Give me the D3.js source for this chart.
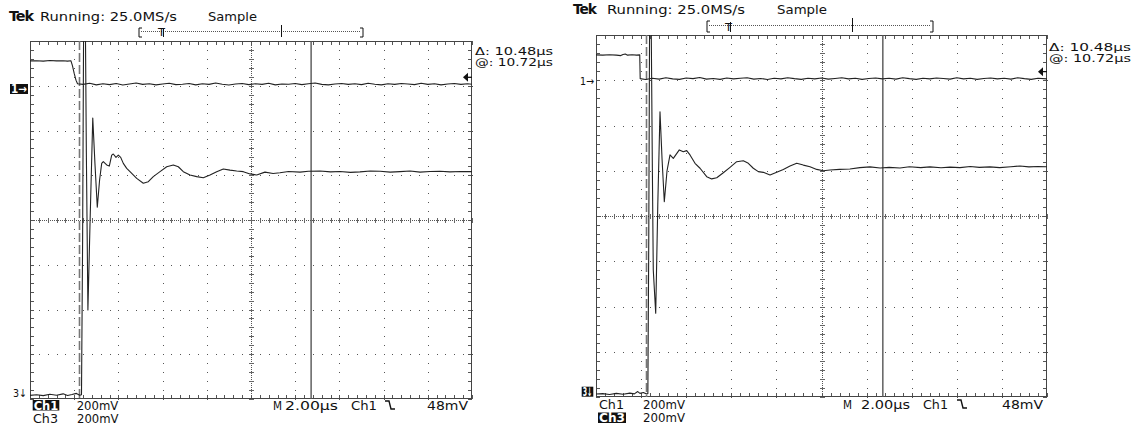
<!DOCTYPE html>
<html><head><meta charset="utf-8">
<script src="https://cdn.jsdelivr.net/npm/d3@7"></script>
<style>body{margin:0;background:#fff}svg{display:block}</style>
</head><body>
<svg id="c" width="1143" height="428"></svg>
<script>
// ---------------- DATA ----------------
// time in µs relative to trigger (2 µs/div, 10 div), voltage in mV on screen (200 mV/div, 8 div)
const timeDivs = [-2, 0, 2, 4, 6, 8, 10, 12, 14, 16, 18];
const voltDivs = [-800, -600, -400, -200, 0, 200, 400, 600, 800];
const cursorTimes = [0.24, 10.72];
const ch1Offset = 590;      // mV screen position of Ch1 ground
const trigLevel = 48;       // mV
const headerTexts = ["Running: 25.0MS/s", "Sample"];
const cursorTexts = ["\u0394: 10.48\u00b5s", "@: 10.72\u00b5s"];
const channelNames = ["Ch1", "Ch3"];
const channelScales = ["200mV", "200mV"];
const timebaseText = "2.00\u00b5s";
const trigSourceText = "Ch1";
const trigLevelText = "48mV";

const ch1A = [[-2.0,711],[-1.7,712],[-1.4,710],[-1.1,713],[-0.8,711],[-0.5,712],[-0.3,710],[-0.15,712],[-0.08,690],[0.0,655],[0.08,625],[0.15,609],
[0.4,606],[0.7,611],[1.0,604],[1.3,609],[1.6,605],[1.9,610],[2.2,603],[2.5,608],[2.8,612],[3.1,606],[3.4,609],[3.7,604],[4.0,608],[4.3,611],[4.6,605],[4.9,607],[5.2,610],[5.5,604],[5.8,609],[6.1,606],[6.4,612],[6.7,607],[7.0,603],[7.3,608],[7.6,610],[7.9,605],[8.2,609],[8.5,606],[8.8,611],[9.1,604],[9.4,608],[9.7,607],[10.0,610],[10.3,605],[10.6,609],[10.9,612],[11.2,606],[11.5,604],[11.8,608],[12.1,610],[12.4,606],[12.7,609],[13.0,605],[13.3,611],[13.6,607],[13.9,604],[14.2,609],[14.5,606],[14.8,610],[15.1,608],[15.4,605],[15.7,611],[16.0,606],[16.3,609],[16.6,604],[16.9,608],[17.2,610],[17.5,606],[17.8,609],[18.0,607]];

const ch3A = [[-2.0,-784],[-1.7,-781],[-1.4,-785],[-1.1,-779],[-0.8,-783],[-0.5,-777],[-0.3,-784],[-0.1,-780],[0.1,-775],[0.25,-783],[0.33,-781],[0.38,-100],[0.43,950],[0.50,950],[0.55,300],[0.62,-402],[0.72,0],[0.84,456],[0.94,250],[1.045,57],[1.15,180],[1.244,253],[1.317,261],[1.471,246],[1.588,241],[1.697,290],[1.769,295],[1.892,280],[1.996,290],[2.104,280],[2.222,253],[2.376,231],[2.525,216],[2.828,186],[3.127,164],[3.353,171],[3.579,194],[3.883,216],[4.186,238],[4.484,246],[4.711,238],[4.937,216],[5.24,201],[5.543,194],[5.842,189],[6.145,201],[6.448,216],[6.747,228],[7.05,223],[7.353,219],[7.652,216],[7.955,206],[8.258,201],[8.63,214],[9.0,208],[9.31,211],[9.7,217],[10.22,214],[10.6,218],[11.12,219],[11.6,215],[12.03,217],[12.5,213],[12.93,215],[13.4,219],[13.84,218],[14.3,214],[14.74,216],[15.2,219],[15.65,214],[16.1,217],[16.55,218],[17.0,215],[17.5,217],[18.0,216]];

const ch1B = [[-2.0,712],[-1.7,711],[-1.4,713],[-1.1,711],[-0.9,709],[-0.8,714],[-0.7,716],[-0.6,711],[-0.4,713],[-0.2,711],[-0.06,712],[-0.04,607],
[0.2,603],[0.5,609],[0.8,605],[1.1,611],[1.4,606],[1.7,604],[2.0,610],[2.3,607],[2.6,612],[2.9,605],[3.2,608],[3.5,604],[3.8,610],[4.1,606],[4.4,609],[4.7,611],[5.0,605],[5.3,608],[5.6,603],[5.9,609],[6.2,606],[6.5,611],[6.8,607],[7.1,604],[7.4,609],[7.7,606],[8.0,610],[8.3,605],[8.6,608],[8.9,611],[9.2,606],[9.5,609],[9.8,604],[10.1,608],[10.4,610],[10.7,606],[11.0,609],[11.3,605],[11.6,611],[11.9,607],[12.2,604],[12.5,609],[12.8,606],[13.1,610],[13.4,608],[13.7,605],[14.0,611],[14.3,606],[14.6,609],[14.9,604],[15.2,608],[15.5,610],[15.8,606],[16.1,609],[16.4,605],[16.7,611],[17.0,607],[17.3,604],[17.6,609],[18.0,606]];

const ch3B = [[-2.0,-787],[-1.7,-785],[-1.4,-789],[-1.1,-784],[-0.8,-788],[-0.5,-783],[-0.3,-786],[-0.15,-776],[-0.05,-784],[0.1,-780],[0.22,-786],[0.30,-785],[0.34,-100],[0.38,950],[0.44,950],[0.50,200],[0.54,-239],[0.648,-430],[0.74,50],[0.838,461],[0.93,250],[1.029,63],[1.15,200],[1.282,270],[1.428,255],[1.694,292],[1.872,284],[2.022,289],[2.169,270],[2.391,233],[2.613,211],[2.91,174],[3.132,164],[3.354,169],[3.646,191],[3.943,215],[4.24,240],[4.533,244],[4.755,233],[4.976,211],[5.198,196],[5.42,193],[5.717,181],[6.014,193],[6.307,206],[6.604,221],[6.901,233],[7.194,225],[7.49,218],[7.788,206],[8.08,200],[8.377,203],[8.8,206],[9.26,208],[9.7,214],[10.15,217],[10.6,212],[11.0,215],[11.48,212],[11.9,218],[12.4,214],[12.81,217],[13.3,213],[13.7,216],[14.14,214],[14.6,219],[15.0,215],[15.47,217],[15.9,214],[16.4,218],[16.8,221],[17.2,217],[17.6,219],[18.0,218]];

// ---------------- LAYOUT ----------------
const panels = [
 {box:{x0:30,x1:472,y0:41,y1:399}, ch1:ch1A, ch3:ch3A,
  hdrY:21, tek:{x:9,w:24}, run:{x:40,w:137}, smp:{x:208,w:49},
  bar:{y:31,top:28,bot:37,x0:139,xT:161,xM:281,x1:363},
  dlt:{x:475,w:78,y1:54.5,y2:65.5},
  m1:{inv:true,x:10,y:84,w:18,h:10}, m3:{inv:false,x:13,y:387,w:14,h:10},
  r1:409.5, r2:422.5, c1:{x:32.7,w:26.6,inv:true}, c1s:{x:76.7,w:41.6}, c3:{x:33,w:25,inv:false}, c3s:{x:77,w:41.5},
  M:{x:273}, mt:{x:285,w:53}, tc:{x:351,w:26}, sym:{x:385}, lv:{x:427,w:41}},
 {box:{x0:596,x1:1047,y0:35,y1:397}, ch1:ch1B, ch3:ch3B,
  hdrY:13.5, tek:{x:573,w:23}, run:{x:607,w:138}, smp:{x:777,w:50},
  bar:{y:25,top:21,bot:32,x0:707,xT:728,xM:852,x1:933},
  dlt:{x:1049,w:82,y1:51,y2:62},
  m1:{inv:false,x:580,y:76,w:14,h:9}, m3:{inv:true,x:581.7,y:386.7,w:11.6,h:10},
  r1:408.5, r2:422, c1:{x:599,w:25,inv:false}, c1s:{x:643,w:42}, c3:{x:598,w:28,inv:true}, c3s:{x:643,w:42},
  M:{x:843}, mt:{x:861,w:49}, tc:{x:923,w:25}, sym:{x:957}, lv:{x:1002,w:41}}
];

const FONT = "DejaVu Sans, Verdana, sans-serif";
const svg = d3.select("#c");
const ink = "#111";

function txt(g, s, x, y, w, size, fill, weight) {
  const t = g.append("text").attr("x", x).attr("y", y).text(s)
    .attr("font-family", FONT).attr("font-size", size || 12)
    .attr("fill", fill || ink).attr("font-weight", weight || "normal");
  if (w) t.attr("textLength", w).attr("lengthAdjust", "spacingAndGlyphs");
  return t;
}

panels.forEach((p, i) => {
  const b = p.box;
  const g = svg.append("g");
  const x = d3.scaleLinear().domain([timeDivs[0], timeDivs[timeDivs.length-1]]).range([b.x0, b.x1]);
  const y = d3.scaleLinear().domain([voltDivs[0], voltDivs[voltDivs.length-1]]).range([b.y1, b.y0]);
  const minorT = [], minorV = [];
  for (let k = 0; k < timeDivs.length - 1; k++) for (let s = 0; s < 5; s++) minorT.push(timeDivs[k] + (timeDivs[k+1]-timeDivs[k]) * s / 5);
  minorT.push(timeDivs[timeDivs.length-1]);
  for (let k = 0; k < voltDivs.length - 1; k++) for (let s = 0; s < 5; s++) minorV.push(voltDivs[k] + (voltDivs[k+1]-voltDivs[k]) * s / 5);
  minorV.push(voltDivs[voltDivs.length-1]);
  const tMid = timeDivs[5], vMid = voltDivs[4];
  const dotCol = "#555";
  const grid = g.append("g").attr("shape-rendering", "crispEdges");
  timeDivs.slice(1, -1).forEach(t => {
    if (t === tMid) return;
    minorV.forEach(v => grid.append("rect").attr("x", Math.round(x(t))).attr("y", Math.round(y(v))).attr("width", 1).attr("height", 1).attr("fill", dotCol));
  });
  voltDivs.slice(1, -1).forEach(v => {
    if (v === vMid) return;
    minorT.forEach(t => grid.append("rect").attr("x", Math.round(x(t))).attr("y", Math.round(y(v))).attr("width", 1).attr("height", 1).attr("fill", dotCol));
  });
  const cx = Math.round(x(tMid)) + 0.5, cy = Math.round(y(vMid)) + 0.5;
  grid.append("line").attr("x1", b.x0).attr("x2", b.x1).attr("y1", cy).attr("y2", cy).attr("stroke", "#555").attr("stroke-dasharray", "1,1");
  grid.append("line").attr("y1", b.y0).attr("y2", b.y1).attr("x1", cx).attr("x2", cx).attr("stroke", "#555").attr("stroke-dasharray", "1,1");
  minorT.forEach(t => grid.append("line").attr("x1", Math.round(x(t))+0.5).attr("x2", Math.round(x(t))+0.5).attr("y1", cy-2.5).attr("y2", cy+2.5).attr("stroke", "#666"));
  minorV.forEach(v => grid.append("line").attr("y1", Math.round(y(v))+0.5).attr("y2", Math.round(y(v))+0.5).attr("x1", cx-2.5).attr("x2", cx+2.5).attr("stroke", "#666"));
  minorT.forEach(t => {
    const xx = Math.round(x(t)) + 0.5;
    grid.append("line").attr("x1", xx).attr("x2", xx).attr("y1", b.y0).attr("y2", b.y0+4).attr("stroke", "#555");
    grid.append("line").attr("x1", xx).attr("x2", xx).attr("y1", b.y1-4).attr("y2", b.y1).attr("stroke", "#555");
  });
  minorV.forEach(v => {
    const yy = Math.round(y(v)) + 0.5;
    grid.append("line").attr("y1", yy).attr("y2", yy).attr("x1", b.x0).attr("x2", b.x0+4).attr("stroke", "#555");
    grid.append("line").attr("y1", yy).attr("y2", yy).attr("x1", b.x1-4).attr("x2", b.x1).attr("stroke", "#555");
  });
  grid.append("rect").attr("x", b.x0+0.5).attr("y", b.y0+0.5).attr("width", b.x1-b.x0-1).attr("height", b.y1-b.y0-1)
    .attr("fill", "none").attr("stroke", "#444").attr("stroke-width", 1.2);

  const cid = "clip" + i;
  svg.append("clipPath").attr("id", cid).append("rect").attr("x", b.x0).attr("y", b.y0).attr("width", b.x1-b.x0).attr("height", b.y1-b.y0);
  const plot = g.append("g").attr("clip-path", `url(#${cid})`);

  plot.append("line").attr("x1", x(cursorTimes[0])).attr("x2", x(cursorTimes[0])).attr("y1", b.y0).attr("y2", b.y1)
    .attr("stroke", "#777").attr("stroke-width", 1.6).attr("stroke-dasharray", "9,3");
  plot.append("line").attr("x1", x(cursorTimes[1])).attr("x2", x(cursorTimes[1])).attr("y1", b.y0).attr("y2", b.y1)
    .attr("stroke", "#555").attr("stroke-width", 1.4);

  const line = d3.line().x(d => x(d[0])).y(d => y(d[1]));
  plot.append("path").datum(p.ch3).attr("d", line).attr("fill", "none").attr("stroke", "#222").attr("stroke-width", 1.1).attr("stroke-linejoin", "round");
  plot.append("path").datum(p.ch1).attr("d", line).attr("fill", "none").attr("stroke", "#222").attr("stroke-width", 1.1).attr("stroke-linejoin", "round");

  const ty = y(ch1Offset + trigLevel);
  g.append("path").attr("d", `M${b.x1-9},${ty} L${b.x1-4},${ty-4.5} L${b.x1-4},${ty+4.5} Z`).attr("fill", ink);
  g.append("line").attr("x1", b.x1-5).attr("x2", b.x1).attr("y1", ty).attr("y2", ty).attr("stroke", ink).attr("stroke-width", 1.2);

  txt(g, "Tek", p.tek.x, p.hdrY, p.tek.w, 13.5, ink, "bold").attr("letter-spacing", -1);
  txt(g, headerTexts[0], p.run.x, p.hdrY, p.run.w, 12.8);
  txt(g, headerTexts[1], p.smp.x, p.hdrY, p.smp.w, 12.8);

  const bb = p.bar;
  g.append("path").attr("d", `M${bb.x0+3},${bb.top} H${bb.x0} V${bb.bot} H${bb.x0+3}`).attr("fill", "none").attr("stroke", ink).attr("stroke-width", 1);
  g.append("path").attr("d", `M${bb.x1-3},${bb.top} H${bb.x1} V${bb.bot} H${bb.x1-3}`).attr("fill", "none").attr("stroke", ink).attr("stroke-width", 1);
  g.append("line").attr("x1", bb.x0+2).attr("x2", bb.x1-2).attr("y1", bb.y+0.5).attr("y2", bb.y+0.5).attr("stroke", "#555").attr("stroke-dasharray", "1,1");
  g.append("line").attr("x1", bb.xM+0.5).attr("x2", bb.xM+0.5).attr("y1", bb.top-3).attr("y2", bb.bot).attr("stroke", ink);
  txt(g, "T", bb.xT-3, bb.bot-1, 7, 11);
  g.append("line").attr("x1", bb.xT+2.5).attr("x2", bb.xT+2.5).attr("y1", bb.top+1).attr("y2", bb.bot).attr("stroke", ink);

  txt(g, cursorTexts[0], p.dlt.x, p.dlt.y1, p.dlt.w, 10.5);
  txt(g, cursorTexts[1], p.dlt.x, p.dlt.y2, p.dlt.w, 10.5);

  function marker(m, s) {
    if (m.inv) {
      g.append("rect").attr("x", m.x).attr("y", m.y).attr("width", m.w).attr("height", m.h).attr("fill", ink);
      txt(g, s, m.x+1, m.y+m.h-1.2, m.w-2, 11.5, "#fff", "bold");
    } else {
      txt(g, s, m.x, m.y+m.h-0.5, m.w, 11, ink);
    }
  }
  marker(p.m1, "1\u2192");
  marker(p.m3, "3\u2193");

  function chLabel(c, s, base) {
    if (c.inv) {
      g.append("rect").attr("x", c.x).attr("y", base-9.5).attr("width", c.w).attr("height", 10.5).attr("fill", ink);
      txt(g, s, c.x+1, base, c.w-2, 12, "#fff", "bold");
    } else {
      txt(g, s, c.x, base, c.w, 12);
    }
  }
  chLabel(p.c1, channelNames[0], p.r1);
  txt(g, channelScales[0], p.c1s.x, p.r1, p.c1s.w, 12);
  chLabel(p.c3, channelNames[1], p.r2);
  txt(g, channelScales[1], p.c3s.x, p.r2, p.c3s.w, 12);
  txt(g, "M", p.M.x, p.r1, 9, 12);
  txt(g, timebaseText, p.mt.x, p.r1, p.mt.w, 12);
  txt(g, trigSourceText, p.tc.x, p.r1, p.tc.w, 12);
  const sx = p.sym.x, sy = p.r1;
  g.append("path").attr("d", `M${sx},${sy-8.5} H${sx+4} L${sx+6},${sy-0.5} H${sx+10}`).attr("fill", "none").attr("stroke", ink).attr("stroke-width", 1.4);
  txt(g, trigLevelText, p.lv.x, p.r1, p.lv.w, 12);
});
</script>
</body></html>
